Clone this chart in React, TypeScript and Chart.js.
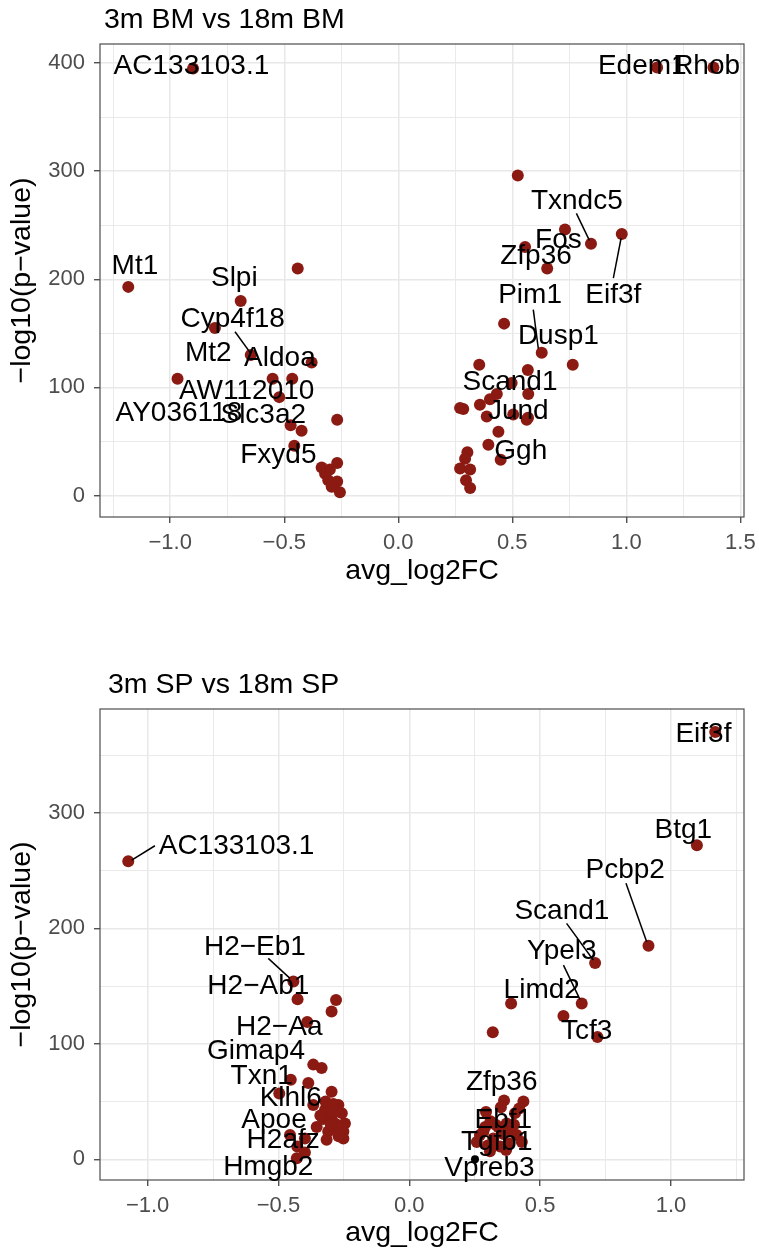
import React, { useEffect, useRef } from "react";
import { Chart, registerables } from "chart.js";
Chart.register(...registerables);

// ---------- Panel 1: 3m BM vs 18m BM ----------
const bmTitle = "3m BM vs 18m BM";
const bmX = [-0.9, 1.135, 1.382, 0.524, 0.845, 0.731, 0.98, 0.556, 0.653, 0.464, 0.629, 0.355, 0.568, 0.765, 0.497, 0.57, 0.432, 0.402, 0.358, 0.285, 0.271, 0.388, 0.504, 0.563, 0.569, 0.439, 0.395, 0.449, 0.303, 0.293, 0.271, 0.315, 0.297, 0.315,
  -1.184, -0.441, -0.691, -0.804, -0.647, -0.38, -0.968, -0.551, -0.465, -0.522, -0.268, -0.472, -0.424, -0.456, -0.336, -0.3, -0.268, -0.307, -0.268, -0.292, -0.256, -0.321];
const bmY = [395, 396, 396, 296, 233, 246, 242, 230, 210, 159, 132, 121, 116, 121, 104, 94, 94, 89, 84, 80, 81, 73, 75, 70, 72, 59, 47, 33, 40, 34, 25, 24, 14, 7,
  193, 210, 180, 155, 130, 123, 108, 108, 108, 91, 70, 65, 60, 46, 26, 24, 30, 14, 13, 8, 3, 20];
const bmLabelText = ["AC133103.1", "Edem1", "Rhob", "Mt1", "Slpi", "Cyp4f18", "Mt2", "Aldoa", "AW112010", "AY036118", "Slc3a2", "Fxyd5", "Txndc5", "Fos", "Zfp36", "Eif3f", "Pim1", "Dusp1", "Scand1", "Jund", "Ggh"];
const bmLabelX = [-0.907, 1.07, 1.352, -1.155, -0.719, -0.726, -0.833, -0.519, -0.665, -0.962, -0.592, -0.526, 0.783, 0.702, 0.604, 0.943, 0.578, 0.702, 0.49, 0.526, 0.537];
const bmLabelY = [397, 397, 397, 212, 201, 163, 132, 127, 96, 76, 74.5, 37.5, 272, 236, 221, 185.5, 185.5, 147.6, 104.4, 78.2, 40.5];
const bmSegX1 = [0.781, 0.977, 0.592, -0.716];
const bmSegY1 = [261, 238, 172, 151.5];
const bmSegX2 = [0.838, 0.943, 0.614, -0.647];
const bmSegY2 = [236, 201, 136, 131.5];
const bmXMajor = [-1.0, -0.5, 0.0, 0.5, 1.0, 1.5];
const bmXMinor = [-1.25, -0.75, -0.25, 0.25, 0.75, 1.25];
const bmYMajor = [0, 100, 200, 300, 400];
const bmYMinor = [50, 150, 250, 350];

// ---------- Panel 2: 3m SP vs 18m SP ----------
const spTitle = "3m SP vs 18m SP";
const spX = [-1.074, 1.169, 1.099, 0.914, 0.71, 0.659, 0.389, 0.589, 0.719, 0.319, 0.362, 0.436, 0.293, 0.404, 0.372, 0.27, 0.321, 0.41, 0.43, 0.347, 0.308, 0.258, 0.283, 0.34, 0.39, 0.3,
  0.33, 0.36, 0.38, 0.32, 0.40, 0.42, 0.35, 0.31, 0.37, 0.29,
  -0.443, -0.427, -0.28, -0.297, -0.39, -0.367, -0.335, -0.453, -0.386, -0.497, -0.297, -0.367, -0.271, -0.322, -0.258, -0.297, -0.354, -0.284, -0.246, -0.252, -0.31, -0.252, -0.316, -0.456, -0.399, -0.428, -0.399, -0.43, -0.33, -0.27,
  -0.28, -0.26, -0.3, -0.27, -0.32, -0.29, -0.34];
const spY = [258, 370, 272, 185, 170, 135, 135, 124, 106, 110, 51, 50, 41, 40, 31, 21, 18, 21, 15, 11, 7, 15, 24, 28, 25, 12,
  30, 22, 14, 12, 30, 44, 45, 33, 8, 28,
  154, 138.5, 138, 128, 119, 82, 79, 69, 66, 57, 58.5, 47, 47, 43, 40, 37, 28, 31, 31, 24, 24, 18, 17, 21, 18, 11, 6, 1, 35, 25,
  42, 28, 30, 20, 50, 48, 38];
const spBlackX = [0.251];
const spBlackY = [0];
const spLabelText = ["AC133103.1", "Eif3f", "Btg1", "Pcbp2", "Scand1", "Ypel3", "Limd2", "Tcf3", "Zfp36", "Ebf1", "Tgfb1", "Vpreb3", "H2\u2212Eb1", "H2\u2212Ab1", "H2\u2212Aa", "Gimap4", "Txn1", "Klhl6", "Apoe", "H2afz", "Hmgb2"];
const spLabelX = [-0.66, 1.124, 1.047, 0.825, 0.583, 0.583, 0.506, 0.678, 0.353, 0.359, 0.334, 0.306, -0.59, -0.577, -0.497, -0.586, -0.564, -0.453, -0.517, -0.482, -0.539];
const spLabelY = [270.7, 368, 285, 250.5, 215, 180, 146.6, 110.5, 67, 34, 14.4, -7.8, 184, 149.4, 114.3, 93.2, 71.5, 52.8, 33.4, 16.7, -6.9];
const spSegX1 = [-1.061, 0.828, 0.601, 0.589, -0.539];
const spSegY1 = [259, 239, 204.3, 168.2, 174];
const spSegX2 = [-0.972, 0.907, 0.703, 0.652, -0.456];
const spSegY2 = [271.5, 188.4, 172.6, 138.5, 156.7];
const spXMajor = [-1.0, -0.5, 0.0, 0.5, 1.0];
const spXMinor = [-0.75, -0.25, 0.25, 0.75, 1.25];
const spYMajor = [0, 100, 200, 300];
const spYMinor = [50, 150, 250, 350];

const xTitle = "avg_log2FC";
const yTitle = "\u2212log10(p\u2212value)";

const FONT = "'Liberation Sans', Arial, Helvetica, sans-serif";
const POINT_COLOR = "#8a1a12";

type Panel = {
  title: string;
  xs: number[]; ys: number[];
  bx?: number[]; by?: number[];
  lt: string[]; lx: number[]; ly: number[];
  sx1: number[]; sy1: number[]; sx2: number[]; sy2: number[];
  xMaj: number[]; xMin: number[]; yMaj: number[]; yMin: number[];
  xRange: [number, number]; yRange: [number, number];
  height: number; areaTop: number; areaBottom: number;
  titleX: number; titleBase: number; xTitleY: number;
};

const isIn = (v: number, arr: number[]) => arr.some((a) => Math.abs(a - v) < 1e-9);
const fmtX = (v: number) => v.toFixed(1).replace("-", "\u2212");

function buildConfig(p: Panel): any {
  const overlay = {
    id: "overlay",
    afterDraw(chart: any) {
      const ctx = chart.ctx;
      const a = chart.chartArea;
      const xs = chart.scales.x, ys = chart.scales.y;
      ctx.save();
      ctx.strokeStyle = "#4d4d4d";
      ctx.lineWidth = 1.2;
      ctx.strokeRect(a.left, a.top, a.right - a.left, a.bottom - a.top);
      ctx.strokeStyle = "#000";
      ctx.lineWidth = 1.5;
      for (let i = 0; i < p.sx1.length; i++) {
        ctx.beginPath();
        ctx.moveTo(xs.getPixelForValue(p.sx1[i]), ys.getPixelForValue(p.sy1[i]));
        ctx.lineTo(xs.getPixelForValue(p.sx2[i]), ys.getPixelForValue(p.sy2[i]));
        ctx.stroke();
      }
      ctx.fillStyle = "#000";
      ctx.font = `28px ${FONT}`;
      ctx.textAlign = "center";
      ctx.textBaseline = "middle";
      for (let i = 0; i < p.lt.length; i++) {
        ctx.fillText(p.lt[i], xs.getPixelForValue(p.lx[i]), ys.getPixelForValue(p.ly[i]));
      }
      ctx.font = `28.5px ${FONT}`;
      ctx.textAlign = "left";
      ctx.textBaseline = "alphabetic";
      ctx.fillText(p.title, p.titleX, p.titleBase);
      ctx.textAlign = "center";
      ctx.textBaseline = "middle";
      ctx.fillText(xTitle, (a.left + a.right) / 2, p.xTitleY);
      ctx.translate(22, (a.top + a.bottom) / 2);
      ctx.rotate(-Math.PI / 2);
      ctx.fillText(yTitle, 0, 0);
      ctx.restore();
    },
  };

  const datasets: any[] = [
    {
      data: p.xs.map((x, i) => ({ x, y: p.ys[i] })),
      backgroundColor: POINT_COLOR,
      borderWidth: 0,
      pointRadius: 6,
      pointHoverRadius: 6,
    },
  ];
  if (p.bx) {
    datasets.unshift({
      data: p.bx.map((x, i) => ({ x, y: p.by![i] })),
      backgroundColor: "#000",
      borderWidth: 0,
      pointRadius: 4,
      pointHoverRadius: 4,
    });
  }

  const gridOpts = (maj: number[]) => ({
    color: "#e8e8e8",
    lineWidth: (c: any) => (c.tick && isIn(c.tick.value, maj) ? 1.5 : 0.9),
    tickColor: (c: any) => (c.tick && isIn(c.tick.value, maj) ? "#333333" : "rgba(0,0,0,0)"),
    tickWidth: 1.2,
    tickLength: 6,
    drawTicks: true,
  });

  return {
    type: "scatter",
    data: { datasets },
    plugins: [overlay],
    options: {
      animation: false,
      responsive: false,
      events: [],
      layout: { padding: { top: p.areaTop, right: 15, left: 0, bottom: 0 } },
      plugins: { legend: { display: false }, tooltip: { enabled: false }, title: { display: false } },
      scales: {
        x: {
          type: "linear",
          min: p.xRange[0],
          max: p.xRange[1],
          border: { display: false },
          grid: gridOpts(p.xMaj),
          afterBuildTicks: (s: any) => {
            s.ticks = [...p.xMaj, ...p.xMin].sort((a, b) => a - b).map((v) => ({ value: v }));
          },
          afterFit: (s: any) => {
            s.height = p.height - p.areaBottom;
            s.paddingLeft = 0; s.paddingRight = 0;
          },
          ticks: {
            autoSkip: false,
            maxRotation: 0,
            minRotation: 0,
            padding: 7,
            color: "#4d4d4d",
            font: { family: FONT, size: 22 },
            callback: (v: any) => (isIn(Number(v), p.xMaj) ? fmtX(Number(v)) : ""),
          },
        },
        y: {
          type: "linear",
          min: p.yRange[0],
          max: p.yRange[1],
          border: { display: false },
          grid: gridOpts(p.yMaj),
          afterBuildTicks: (s: any) => {
            s.ticks = [...p.yMaj, ...p.yMin].sort((a, b) => a - b).map((v) => ({ value: v }));
          },
          afterFit: (s: any) => {
            s.width = 100;
            s.paddingTop = 0; s.paddingBottom = 0;
          },
          ticks: {
            autoSkip: false,
            padding: 9,
            color: "#4d4d4d",
            font: { family: FONT, size: 22 },
            callback: (v: any) => (isIn(Number(v), p.yMaj) ? String(Number(v)) : ""),
          },
        },
      },
    },
  };
}

const panelBM: Panel = {
  title: bmTitle, xs: bmX, ys: bmY,
  lt: bmLabelText, lx: bmLabelX, ly: bmLabelY,
  sx1: bmSegX1, sy1: bmSegY1, sx2: bmSegX2, sy2: bmSegY2,
  xMaj: bmXMajor, xMin: bmXMinor, yMaj: bmYMajor, yMin: bmYMinor,
  xRange: [-1.308, 1.516], yRange: [-19.9, 417.7],
  height: 600, areaTop: 44, areaBottom: 517,
  titleX: 104, titleBase: 28, xTitleY: 571,
};

const panelSP: Panel = {
  title: spTitle, xs: spX, ys: spY, bx: spBlackX, by: spBlackY,
  lt: spLabelText, lx: spLabelX, ly: spLabelY,
  sx1: spSegX1, sy1: spSegY1, sx2: spSegX2, sy2: spSegY2,
  xMaj: spXMajor, xMin: spXMinor, yMaj: spYMajor, yMin: spYMinor,
  xRange: [-1.182, 1.279], yRange: [-17.9, 389.9],
  height: 603, areaTop: 59, areaBottom: 530,
  titleX: 108, titleBase: 43, xTitleY: 583,
};

function PanelChart({ panel, top }: { panel: Panel; top: number }) {
  const ref = useRef<HTMLCanvasElement>(null);
  useEffect(() => {
    if (!ref.current) return;
    const chart = new Chart(ref.current, buildConfig(panel));
    return () => chart.destroy();
  }, [panel]);
  return (
    <canvas
      ref={ref}
      width={759}
      height={panel.height}
      style={{ position: "absolute", left: 0, top, width: 759, height: panel.height }}
    />
  );
}

export default function App() {
  return (
    <div style={{ position: "absolute", left: 0, top: 0, width: 759, height: 1253, background: "#fff" }}>
      <PanelChart panel={panelBM} top={0} />
      <PanelChart panel={panelSP} top={650} />
    </div>
  );
}
